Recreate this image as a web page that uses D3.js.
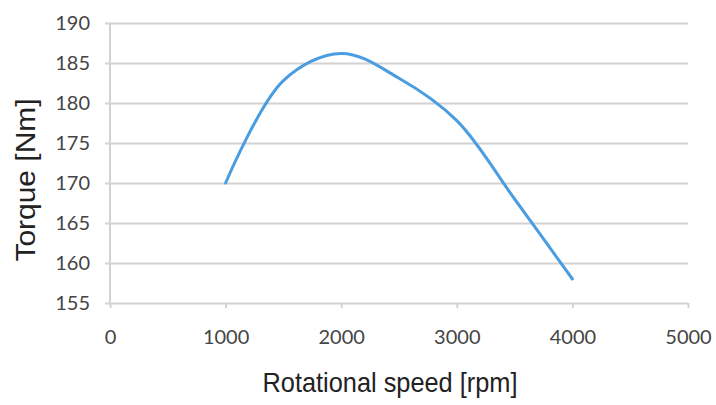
<!DOCTYPE html>
<html>
<head>
<meta charset="utf-8">
<script src="https://cdn.jsdelivr.net/npm/d3@7"></script>
<style>
  body { margin: 0; background: #fff; }
  .tick text { font-family: Lato, "Open Sans", sans-serif; fill: #454545; }
</style>
</head>
<body>
<script>
  // chart data
  var speeds = [1000, 1500, 2000, 2500, 3000, 3500, 4000];
  var torques = [170, 182.8, 186.2, 183.1, 177.8, 168, 158];
  var xTicks = [0, 1000, 2000, 3000, 4000, 5000];
  var yTicks = [155, 160, 165, 170, 175, 180, 185, 190];

  var width = 716,
      height = 405;

  var svg = d3.select("body").append("svg")
      .attr("width", width)
      .attr("height", height);

  var x = d3.scaleLinear().domain([0, 5000]).range([110, 688]);
  var y = d3.scaleLinear().domain([155, 190]).range([303, 23]);

  // horizontal gridlines + left ticks
  var yAxis = d3.axisLeft(y)
      .tickValues(yTicks)
      .tickSize(-(688 - 105))
      .tickPadding(15);

  var gy = svg.append("g")
      .attr("transform", "translate(105,0)")
      .call(yAxis);
  gy.select(".domain").remove();
  gy.selectAll(".tick line")
      .attr("stroke", "#d2d2d2")
      .attr("stroke-width", 2);
  gy.selectAll(".tick text")
      .attr("font-size", 20)
      .attr("x", -15);

  // vertical axis line
  svg.append("line")
      .attr("x1", 110).attr("x2", 110)
      .attr("y1", y(190)).attr("y2", y(155))
      .attr("stroke", "#d2d2d2")
      .attr("stroke-width", 2);

  // bottom axis ticks and labels
  var xAxis = d3.axisBottom(x)
      .tickValues(xTicks)
      .tickFormat(d3.format("d"))
      .tickSize(5)
      .tickPadding(22);

  var gx = svg.append("g")
      .attr("transform", "translate(0," + y(155) + ")")
      .call(xAxis);
  gx.select(".domain").remove();
  gx.selectAll(".tick line")
      .attr("stroke", "#d2d2d2")
      .attr("stroke-width", 2);
  gx.selectAll(".tick text")
      .attr("font-size", 20);

  // torque curve
  var data = speeds.map(function(s, i) { return [s, torques[i]]; });

  var line = d3.line()
      .x(function(d) { return x(d[0]); })
      .y(function(d) { return y(d[1]); })
      .curve(d3.curveCatmullRom.alpha(0.5));

  svg.append("path")
      .datum(data)
      .attr("d", line)
      .attr("fill", "none")
      .attr("stroke", "#4a9de0")
      .attr("stroke-width", 3)
      .attr("stroke-linecap", "round");

  // axis titles
  svg.append("text")
      .attr("x", 390)
      .attr("y", 392)
      .attr("text-anchor", "middle")
      .attr("font-family", "'Liberation Sans', Arial, sans-serif")
      .attr("font-size", 28)
      .attr("fill", "#222")
      .attr("textLength", 255)
      .attr("lengthAdjust", "spacingAndGlyphs")
      .text("Rotational speed [rpm]");

  svg.append("text")
      .attr("transform", "translate(35,180) rotate(-90)")
      .attr("text-anchor", "middle")
      .attr("font-family", "'Liberation Sans', Arial, sans-serif")
      .attr("font-size", 28)
      .attr("fill", "#222")
      .attr("textLength", 163)
      .attr("lengthAdjust", "spacingAndGlyphs")
      .text("Torque [Nm]");
</script>
</body>
</html>
